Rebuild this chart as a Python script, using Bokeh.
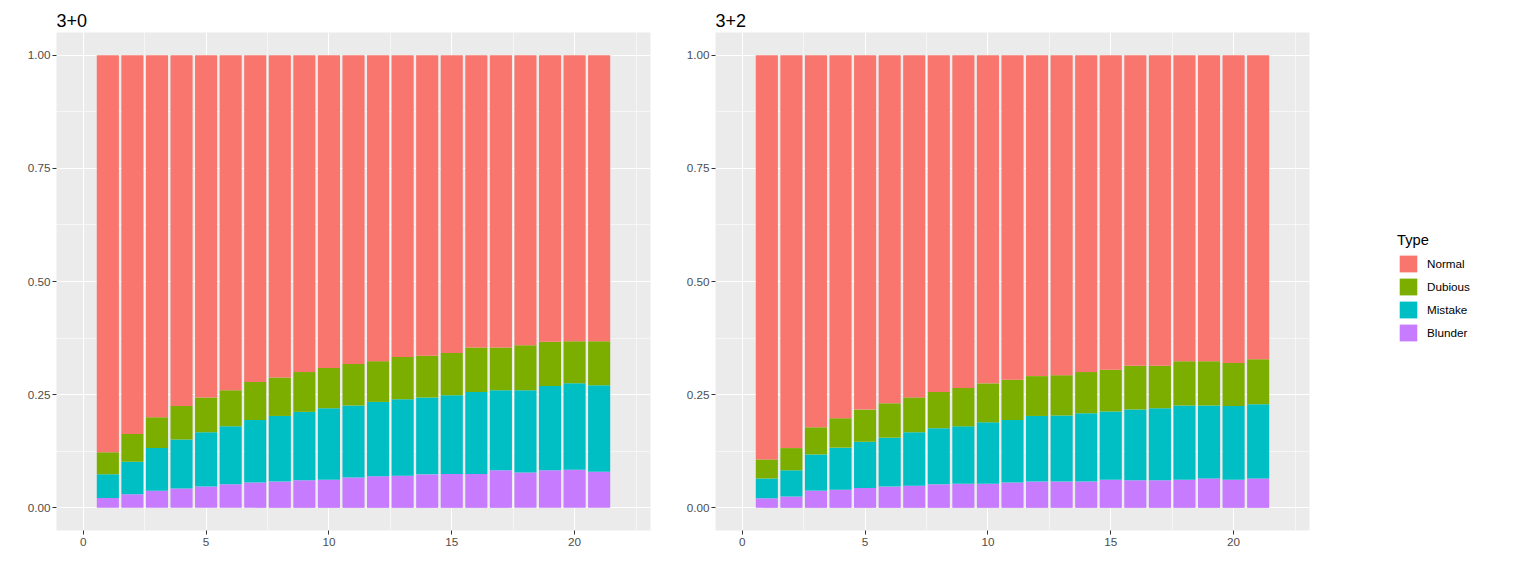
from bokeh.plotting import figure
from bokeh.models import ColumnDataSource, FixedTicker, NumeralTickFormatter, Range1d, Legend, LegendItem
from bokeh.layouts import row
from bokeh.embed import file_html
from bokeh.resources import INLINE

# ---------------- data ----------------
moves = list(range(1, 22))
types = ["Normal", "Dubious", "Mistake", "Blunder"]
colors = {"Normal": "#F8766D", "Dubious": "#7CAE00", "Mistake": "#00BFC4", "Blunder": "#C77CFF"}

# 3+0
blunder_30 = [0.022, 0.030, 0.038, 0.043, 0.047, 0.052, 0.056, 0.058, 0.061, 0.062, 0.067,
              0.070, 0.071, 0.074, 0.075, 0.075, 0.083, 0.078, 0.083, 0.084, 0.080]
mistake_30 = [0.052, 0.072, 0.094, 0.108, 0.120, 0.128, 0.138, 0.145, 0.151, 0.158, 0.159,
              0.164, 0.169, 0.170, 0.174, 0.181, 0.177, 0.182, 0.186, 0.191, 0.191]
dubious_30 = [0.049, 0.061, 0.068, 0.074, 0.077, 0.080, 0.084, 0.085, 0.088, 0.089, 0.092,
              0.090, 0.093, 0.092, 0.093, 0.098, 0.094, 0.099, 0.098, 0.093, 0.097]
normal_30 = [0.877, 0.837, 0.800, 0.775, 0.756, 0.740, 0.722, 0.712, 0.700, 0.691, 0.682,
             0.676, 0.667, 0.664, 0.658, 0.646, 0.646, 0.641, 0.633, 0.632, 0.632]

# 3+2
blunder_32 = [0.021, 0.025, 0.038, 0.040, 0.044, 0.047, 0.049, 0.052, 0.053, 0.053, 0.056,
              0.058, 0.058, 0.058, 0.062, 0.061, 0.061, 0.062, 0.065, 0.062, 0.065]
mistake_32 = [0.044, 0.058, 0.080, 0.093, 0.102, 0.108, 0.118, 0.124, 0.127, 0.136, 0.138,
              0.145, 0.146, 0.151, 0.151, 0.156, 0.159, 0.164, 0.161, 0.163, 0.164]
dubious_32 = [0.042, 0.049, 0.060, 0.065, 0.071, 0.076, 0.077, 0.080, 0.085, 0.086, 0.089,
              0.088, 0.089, 0.091, 0.092, 0.097, 0.094, 0.098, 0.098, 0.095, 0.099]
normal_32 = [0.893, 0.868, 0.822, 0.802, 0.783, 0.769, 0.756, 0.744, 0.735, 0.725, 0.717,
             0.709, 0.707, 0.700, 0.695, 0.686, 0.686, 0.676, 0.676, 0.680, 0.672]

x_ticks = [0, 5, 10, 15, 20]
x_minor = [-2.5, 2.5, 7.5, 12.5, 17.5, 22.5]
y_ticks = [0, 0.25, 0.5, 0.75, 1.0]
y_minor = [0.125, 0.375, 0.625, 0.875]

FONT = "Liberation Sans"
TOP, FH, BOTTOM = 32, 498, 30


def make_panel(title, blunder, mistake, dubious, normal, left_border, right_border):
    src = ColumnDataSource(dict(x=moves, Blunder=blunder, Mistake=mistake,
                                Dubious=dubious, Normal=normal))
    p = figure(frame_width=594, frame_height=FH, output_backend="svg", toolbar_location=None,
               x_range=Range1d(-1.09, 23.09), y_range=Range1d(-0.05, 1.05),
               min_border_left=left_border, min_border_right=right_border,
               min_border_top=TOP, min_border_bottom=BOTTOM)
    p.background_fill_color = "#EBEBEB"
    p.border_fill_color = "white"
    p.outline_line_color = None

    p.title.text = title
    p.title.text_font = FONT
    p.title.text_font_size = "18px"
    p.title.text_font_style = "normal"
    p.title.text_color = "black"
    p.title.standoff = 11
    p.title.offset = 0

    stack = ["Blunder", "Mistake", "Dubious", "Normal"]
    p.vbar_stack(stack, x="x", width=0.9, source=src,
                 color=[colors[s] for s in stack], line_color=None)

    p.xaxis.ticker = FixedTicker(ticks=x_ticks, minor_ticks=x_minor)
    p.yaxis.ticker = FixedTicker(ticks=y_ticks, minor_ticks=y_minor)
    p.yaxis.formatter = NumeralTickFormatter(format="0.00")
    for ax in (p.xaxis, p.yaxis):
        ax.axis_line_color = None
        ax.major_tick_line_color = "#333333"
        ax.major_tick_line_width = 1
        ax.major_tick_out = 4
        ax.major_tick_in = 0
        ax.minor_tick_line_color = None
        ax.major_label_text_font = FONT
        ax.major_label_text_font_size = "11.7px"
        ax.major_label_text_color = "#4D4D4D"
    p.xaxis.major_label_standoff = 3
    p.yaxis.major_label_standoff = 2

    for g in (p.xgrid, p.ygrid):
        g.grid_line_color = "white"
        g.grid_line_width = 1.1
        g.minor_grid_line_color = "white"
        g.minor_grid_line_width = 0.55
    return p


p1 = make_panel("3+0", blunder_30, mistake_30, dubious_30, normal_30, 56, 10)
p2 = make_panel("3+2", blunder_32, mistake_32, dubious_32, normal_32, 55, 10)

# legend panel
LW = 200
LH = TOP + FH + BOTTOM
p3 = figure(frame_width=LW, frame_height=LH, output_backend="svg", toolbar_location=None,
            x_range=Range1d(0, 1), y_range=Range1d(0, 1),
            min_border=0, min_border_left=0, min_border_right=0,
            min_border_top=0, min_border_bottom=0)
p3.axis.visible = False
p3.grid.visible = False
p3.outline_line_color = None
p3.background_fill_color = "white"
p3.border_fill_color = "white"

items = []
for t in types:
    # key swatch only: a zero-height bar, so nothing is drawn in the plot area
    r = p3.vbar(x=[0.5], top=[0], bottom=[0], width=0.5, color=colors[t], line_color=None)
    items.append(LegendItem(label=t, renderers=[r]))

legend = Legend(items=items, location=(78, LH - 343), title="Type",
                title_text_font=FONT, title_text_font_size="14.7px", title_text_color="black",
                title_text_font_style="normal", title_standoff=5,
                label_text_font=FONT, label_text_font_size="11.7px", label_text_color="black",
                glyph_width=22, glyph_height=21, label_height=21, spacing=2,
                label_standoff=8, padding=5, margin=0,
                border_line_color=None, background_fill_alpha=0)
p3.add_layout(legend, "center")

layout = row(p1, p2, p3)
open("out.html", "w").write(file_html(layout, INLINE))
